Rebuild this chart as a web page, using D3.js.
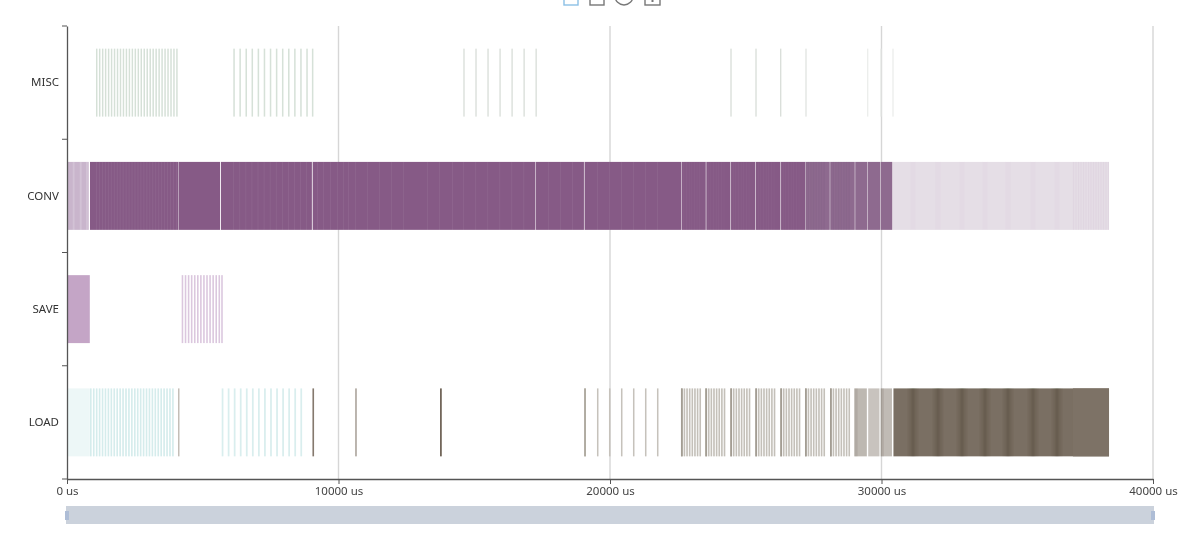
<!DOCTYPE html>
<html><head><meta charset="utf-8">
<script src="https://cdnjs.cloudflare.com/ajax/libs/d3/7.8.5/d3.min.js"></script>
<style>
html,body{margin:0;padding:0;background:#fff;overflow:hidden}
svg{display:block;filter:blur(0.5px)}
text{font-family:"Noto Sans",sans-serif;font-size:11.5px;fill:#333}
</style></head><body><div id="c"></div>
<script>
const categories=["LOAD","SAVE","CONV","MISC"];
const xTicks=[0,10000,20000,30000,40000];
const unit=" us";

// MISC op start times (us)
const miscA=[1068,1177,1287,1396,1506,1615,1724,1834,1943,2053,2162,2272,2381,2490,2600,2709,2819,2928,3038,3147,3256,3366,3475,3585,3694,3804,3913,4022];
const miscB=[6125,6349,6573,6797,7021,7245,7469,7693,7917,8141,8365,8589,8813,9020];
const miscC=[14597,15040,15483,15926,16369,16812,17255];
const miscD=[24432,25353,26262,27194];
const miscE=[29466,29945,30398];

// SAVE
const saveBlock=[[0,840]];
const saveLines=[4224,4337,4450,4563,4676,4789,4902,5015,5128,5241,5354,5467,5580,5680];

// CONV [start,end]
const convHead=[[0,800]];
const convHeadPale=[210,470,700];
const convMain=[[847,4100],[4112,5640],[5672,9020],[9048,17254],[17272,19040],[19062,22632],[22650,23528],[23548,24438],[24458,25358],[25378,26280],[26300,27200]];
const convLate=[[27216,28095],[28112,29015],[29032,29485],[29502,29960],[29978,30400]];
const convTail=[[30420,38380]];
const convFaint=[9208,9429,9687,9944,10165,10350,10607,11049,11491,11933,12375,13259,13701,14180,17715,18157,18600];
const tailBands=[31160,32080,32965,33812,34660,35580,36464];
const tailStripes=[37050,37142,37234,37326,37418,37510,37602,37694,37786,37878,37970,38062,38154,38246,38338];

// LOAD
const loadTealBlock=[[0,840]];
const loadTealA=[847,955,1063,1171,1279,1387,1495,1603,1711,1819,1927,2035,2143,2251,2359,2467,2575,2683,2791,2899,3007,3115,3223,3331,3439,3547,3655,3763,3871];
const loadTealB=[5697,5920,6143,6366,6589,6812,7035,7258,7481,7704,7927,8150,8373,8596];
const loadSingle=[4096];
const loadDarkA=[9040];
const loadDarkB=[10620];
const loadDarkC=[13742];
const loadSparse=[19052,19520,19962,20404,20846,21288,21730];
const loadDense=[22614,22711,22808,22905,23002,23099,23196,23293,23509,23606,23703,23800,23897,23994,24091,24188,24430,24527,24624,24721,24818,24915,25012,25109,25351,25448,25545,25642,25739,25836,25933,26030,26272,26369,26466,26563,26660,26757,26854,26951,27182,27279,27376,27473,27570,27667,27764,27861,28103,28200,28297,28394,28491,28588,28685,28782];
const loadAccent=[22614,23509,24430,25351,26272,27182,28103];
const loadBlocks=[[29000,29460],[29510,29925],[29970,30385]];
const loadBlockTones=[0.5,0.42,0.48];
const loadBlockEdges=[29000,29970];
const loadTail=[[30440,38380]];
const loadTailLate=[[37050,38380]];

const W=1184,H=542;
const svg=d3.select("#c").append("svg").attr("width",W).attr("height",H);
const x=d3.scaleLinear().domain([0,40000]).range([67,1153]);
const y=d3.scaleBand().domain(categories).range([479,26]).paddingInner(0).paddingOuter(0);
const h=y.bandwidth()*0.6, off=y.bandwidth()*0.2;

// grid
svg.append("g").selectAll("line").data(xTicks.slice(1)).join("line")
 .attr("x1",d=>x(d)).attr("x2",d=>x(d)).attr("y1",26).attr("y2",479)
 .attr("stroke","#d6d6d6").attr("stroke-width",1.4);

const g=svg.append("g");
function spans(cat,data,color,op){
 g.append("g").selectAll("rect").data(data).join("rect")
  .attr("x",d=>x(d[0])).attr("width",d=>x(d[1])-x(d[0]))
  .attr("y",y(cat)+off).attr("height",h).attr("fill",color).attr("fill-opacity",op);
}
function lines(cat,data,dur,color,op){
 spans(cat,data.map(s=>[s,s+dur]),color,op);
}

// MISC
lines("MISC",miscA,54,"#d5e0d7",1);
lines("MISC",miscB,56,"#d6e1d8",1);
lines("MISC",miscC,50,"#dadfda",1);
lines("MISC",miscD.slice(0,3),50,"#dadfda",1);
lines("MISC",miscD.slice(3),50,"#e2e5e2",1);
lines("MISC",miscE,50,"#eceeec",1);

// SAVE
spans("SAVE",saveBlock,"#c4a5c6",1);
lines("SAVE",saveLines,58,"#dbc7de",1);

// CONV
spans("CONV",convHead,"#c9b5cc",1);
lines("CONV",convHeadPale,70,"#ffffff",0.18);
spans("CONV",convMain,"#865a86",1);
spans("CONV",convLate,"#8e6a8f",1);
spans("CONV",convTail,"#e5dee6",1);
[miscA,miscB,miscC,miscD,miscE,convFaint,loadSparse].forEach(a=>lines("CONV",a.filter(s=>s<27000),28,"#ffffff",0.08));
lines("CONV",loadDense.filter(s=>s<27000),22,"#ffffff",0.05);
lines("CONV",loadDense.filter(s=>s>27000),50,"#5f3a60",0.08);
lines("CONV",tailBands.map(s=>s-100),200,"#c7a8c9",0.06);
lines("CONV",tailStripes,46,"#c7a8c9",0.14);

// LOAD
spans("LOAD",loadTealBlock,"#edf7f7",1);
lines("LOAD",loadTealA,60,"#d5ecec",1);
lines("LOAD",loadTealB,64,"#d9eeee",1);
lines("LOAD",loadSingle,44,"#b5aea5",1);
lines("LOAD",loadDarkA,60,"#85796e",1);
lines("LOAD",loadDarkB,48,"#988f85",1);
lines("LOAD",loadDarkC,60,"#64574a",1);
lines("LOAD",loadSparse,56,"#c6c2bb",1);
lines("LOAD",loadSparse.slice(0,1),56,"#a8a297",1);
lines("LOAD",loadDense,60,"#c4c0b9",1);
lines("LOAD",loadAccent,66,"#a39d93",1);
g.append("g").selectAll("rect").data(loadBlocks).join("rect")
 .attr("x",d=>x(d[0])).attr("width",d=>x(d[1])-x(d[0]))
 .attr("y",y("LOAD")+off).attr("height",h)
 .attr("fill","#7c7164").attr("fill-opacity",(d,i)=>loadBlockTones[i]);
lines("LOAD",loadBlockEdges,120,"#7c7164",0.18);
spans("LOAD",loadTail,"#7a6f63",1);
spans("LOAD",loadTailLate,"#7d7266",1);
[420,320,230,150,90,40].forEach(w=>lines("LOAD",tailBands.map(s=>s-w/2),w,"#4f4133",0.075));

// axes
const xAxis=d3.axisBottom(x).tickValues(xTicks).tickFormat(d=>d+unit).tickSize(5).tickSizeOuter(0);
const yAxis=d3.axisLeft(y).tickSize(0);
const ax=svg.append("g").attr("transform","translate(0,479)").call(xAxis);
ax.select(".domain").attr("stroke","#555").attr("stroke-width",1.3);
ax.selectAll("line").attr("stroke","#555");
ax.selectAll("text").attr("dy","0").attr("y",16).style("fill","#444");
const ay=svg.append("g").attr("transform","translate(67,0)").call(yAxis);
ay.select(".domain").attr("stroke","#555").attr("stroke-width",1.3);
ay.selectAll("text").attr("x",-8).style("fill","#333");
// band-boundary ticks on the category axis
const boundaries=categories.map(c=>y(c)).concat([479]);
ay.append("g").selectAll("line").data(boundaries).join("line")
 .attr("x1",-5).attr("x2",0).attr("y1",d=>d).attr("y2",d=>d).attr("stroke","#555");

// zoom slider
const sl=svg.append("g");
sl.append("rect").attr("x",x(0)-1).attr("y",506).attr("width",x(40000)-x(0)+2).attr("height",18).attr("fill","#cbd2dc");
sl.selectAll("rect.h").data([0,40000]).join("rect").attr("class","h")
 .attr("x",d=>x(d)-2).attr("y",511).attr("width",4).attr("height",9).attr("fill","#aebdd6");

// toolbox (clipped at top of the page)
const tb=svg.append("g").attr("fill","none").attr("stroke-width",1.4);
tb.append("rect").attr("x",564).attr("y",-12).attr("width",14).attr("height",17).attr("stroke","#8cc0e6");
tb.append("rect").attr("x",590).attr("y",-12).attr("width",14).attr("height",17).attr("stroke","#777");
tb.append("circle").attr("cx",624).attr("cy",-4).attr("r",9).attr("stroke","#777");
tb.append("rect").attr("x",645).attr("y",-12).attr("width",15).attr("height",17).attr("stroke","#777");
tb.append("line").attr("x1",652.5).attr("x2",652.5).attr("y1",-4).attr("y2",2).attr("stroke","#777").attr("stroke-width",2);
</script></body></html>
